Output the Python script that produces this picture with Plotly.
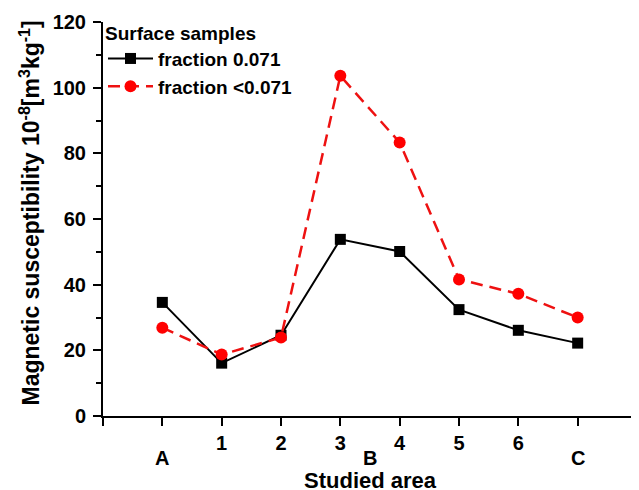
import plotly.graph_objects as go

positions = [0, 1, 2, 3, 4, 5, 6, 7]
num_labels = ["", "1", "2", "3", "4", "5", "6", ""]
area_labels = ["A", "B", "C"]
area_positions = [0, 3.5, 7]
frac_071 = [34.6, 16.1, 24.6, 53.8, 50.1, 32.4, 26.1, 22.2]
frac_lt071 = [26.9, 18.7, 23.9, 103.6, 83.3, 41.6, 37.2, 30.0]

FONT = "Liberation Sans, Arial, sans-serif"

# page body has an 8px margin; figure is sized/margined to compensate
W, H = 631, 482
ML, MR, MT, MB = 95, 2, 14, 74
PW = W - ML - MR
PH = H - MT - MB

fig = go.Figure()
fig.add_trace(go.Scatter(
    x=positions, y=frac_071, name="<b>fraction 0.071</b>", mode="lines+markers",
    line=dict(color="black", width=2),
    marker=dict(symbol="square", size=11, color="black"),
))
fig.add_trace(go.Scatter(
    x=positions, y=frac_lt071, name="<b>fraction &lt;0.071</b>", mode="lines+markers",
    line=dict(color="#ee1111", width=2.5, dash="12px,7px"),
    marker=dict(symbol="circle", size=12, color="#ff0000"),
))

fig.update_layout(
    width=W, height=H,
    margin=dict(l=ML, r=MR, t=MT, b=MB),
    paper_bgcolor="white", plot_bgcolor="white",
    font=dict(family=FONT, color="black"),
    showlegend=True,
    legend=dict(
        x=0.0, y=1.018, xanchor="left", yanchor="top",
        bgcolor="rgba(0,0,0,0)",
        title=dict(text="<b>Surface samples</b>", font=dict(size=19)),
        font=dict(size=19),
        itemwidth=45,
        tracegroupgap=0,
    ),
    xaxis=dict(
        range=[-1, 8],
        tickmode="array",
        tickvals=[-1] + positions + [8],
        ticktext=[""] + ["<b>%s</b>" % t if t else "" for t in num_labels] + [""],
        ticks="outside", ticklen=8, tickwidth=2, tickcolor="black",
        showline=True, linecolor="black", linewidth=2,
        showgrid=False, zeroline=False,
        tickfont=dict(size=20, family=FONT),
    ),
    yaxis=dict(
        range=[0, 120],
        tickmode="array",
        tickvals=[0, 20, 40, 60, 80, 100, 120],
        ticktext=["<b>%d</b>" % v for v in [0, 20, 40, 60, 80, 100, 120]],
        ticks="outside", ticklen=8, tickwidth=2, tickcolor="black",
        ticklabelstandoff=3,
        minor=dict(tickvals=[10, 30, 50, 70, 90, 110], ticks="outside", ticklen=5,
                   tickwidth=2, tickcolor="black"),
        showline=True, linecolor="black", linewidth=2,
        showgrid=False, zeroline=False,
        tickfont=dict(size=20, family=FONT),
    ),
)

for lab, pos in zip(area_labels, area_positions):
    fig.add_annotation(x=pos, y=0, xref="x", yref="paper", text="<b>%s</b>" % lab,
                       showarrow=False, yanchor="middle", yshift=-42,
                       font=dict(size=20, family=FONT))

fig.add_annotation(x=3.5, y=0, xref="x", yref="paper", text="<b>Studied area</b>",
                   showarrow=False, yanchor="middle", yshift=-64,
                   font=dict(size=22, family=FONT))

fig.add_annotation(
    x=(29 - 103) / PW, y=(415.5 - 213) / PH, xref="paper", yref="paper",
    text="<b>Magnetic susceptibility 10<sup>-8</sup>[m<sup>3</sup>kg<sup>-1</sup>]</b>",
    showarrow=False, textangle=-90, xanchor="center", yanchor="middle",
    font=dict(size=23, family=FONT),
)

fig.write_html("out.html")
